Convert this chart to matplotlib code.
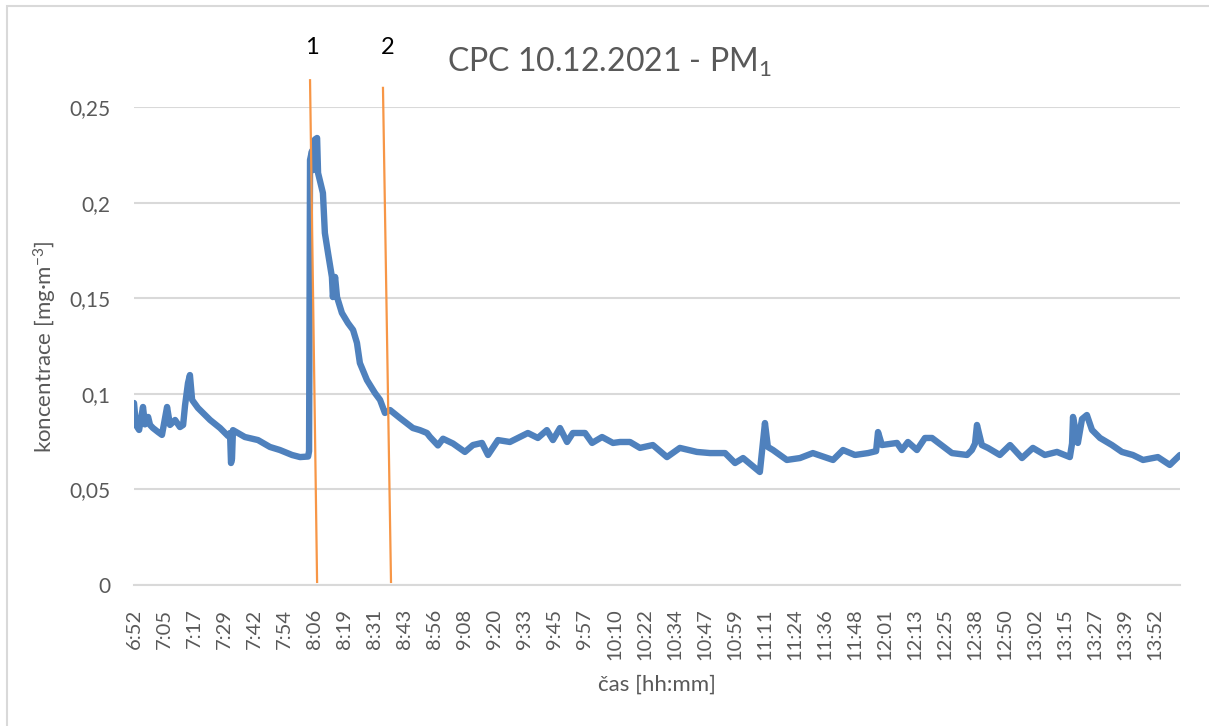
import numpy as np
import matplotlib.pyplot as plt
from matplotlib.patches import Rectangle

plt.rcParams['font.family'] = ['Lato', 'DejaVu Sans']
plt.rcParams['mathtext.fontset'] = 'custom'
plt.rcParams['mathtext.rm'] = 'Lato'
plt.rcParams['mathtext.it'] = 'Lato'

# cas v minutach od 6:52 a koncentrace PM1 [mg/m3]
cas_min = np.array([
    0.0, 0.8, 2.1, 3.7, 4.5, 5.8, 6.6, 7.8, 9.9, 11.5,
    13.6, 14.8, 16.9, 18.9, 20.2, 21.0, 22.2, 23.0, 23.9, 26.3,
    31.3, 35.4, 38.7, 39.5, 39.9, 40.3, 40.7, 45.6, 51.0, 55.9,
    60.0, 65.0, 68.3, 71.6, 72.0, 72.4, 73.2, 73.6, 74.4, 75.3,
    75.7, 77.7, 78.5, 79.8, 81.4, 81.8, 82.7, 83.5, 85.5, 88.0,
    90.1, 91.7, 92.9, 95.8, 99.1, 101.2, 103.2, 105.3, 109.4, 114.7,
    117.6, 120.5, 121.7, 125.0, 127.1, 131.2, 136.1, 139.4, 143.1, 145.6,
    149.7, 154.6, 158.7, 162.0, 166.1, 169.8, 172.3, 175.2, 178.1, 180.5,
    185.5, 188.4, 192.5, 197.0, 199.9, 204.0, 208.1, 213.4, 219.2, 224.5,
    231.5, 236.9, 243.1, 247.2, 250.5, 257.4, 259.5, 260.7, 262.8, 268.5,
    273.9, 279.2, 287.5, 291.6, 296.5, 301.9, 305.2, 306.0, 307.6, 313.8,
    315.8, 318.3, 322.0, 325.3, 328.2, 336.4, 342.6, 344.6, 345.9, 346.7,
    348.7, 351.2, 356.1, 360.3, 365.2, 369.7, 374.6, 379.6, 384.9, 385.8,
    386.2, 388.2, 389.9, 391.9, 394.0, 397.3, 402.2, 406.3, 410.8, 415.0,
    421.1, 426.0, 430.2,
])
pm1 = np.array([
    0.0952, 0.0837, 0.0811, 0.0931, 0.0840, 0.0879, 0.0837, 0.0821, 0.0800, 0.0785,
    0.0931, 0.0837, 0.0863, 0.0826, 0.0837, 0.0940, 0.1056, 0.1098, 0.0968, 0.0926,
    0.0863, 0.0821, 0.0779, 0.0795, 0.0638, 0.0660, 0.0810, 0.0774, 0.0758, 0.0722,
    0.0706, 0.0680, 0.0669, 0.0672, 0.0700, 0.2223, 0.2270, 0.2170, 0.2330, 0.2338,
    0.2155, 0.2050, 0.1841, 0.1736, 0.1611, 0.1506, 0.1611, 0.1506, 0.1423, 0.1370,
    0.1334, 0.1266, 0.1161, 0.1072, 0.1004, 0.0968, 0.0900, 0.0915, 0.0873, 0.0821,
    0.0810, 0.0795, 0.0775, 0.0730, 0.0765, 0.0740, 0.0696, 0.0732, 0.0743, 0.0680,
    0.0758, 0.0748, 0.0774, 0.0795, 0.0769, 0.0810, 0.0758, 0.0821, 0.0748, 0.0795,
    0.0795, 0.0743, 0.0774, 0.0743, 0.0748, 0.0748, 0.0717, 0.0732, 0.0669, 0.0717,
    0.0696, 0.0690, 0.0690, 0.0638, 0.0664, 0.0591, 0.0847, 0.0722, 0.0706, 0.0654,
    0.0664, 0.0690, 0.0654, 0.0706, 0.0680, 0.0690, 0.0700, 0.0800, 0.0732, 0.0743,
    0.0706, 0.0748, 0.0706, 0.0769, 0.0769, 0.0690, 0.0680, 0.0706, 0.0740, 0.0837,
    0.0732, 0.0717, 0.0680, 0.0732, 0.0664, 0.0717, 0.0680, 0.0696, 0.0669, 0.0740,
    0.0879, 0.0743, 0.0868, 0.0889, 0.0811, 0.0769, 0.0732, 0.0696, 0.0680, 0.0654,
    0.0669, 0.0628, 0.0680,
])

x_labels = ['6:52', '7:05', '7:17', '7:29', '7:42', '7:54', '8:06', '8:19', '8:31',
            '8:43', '8:56', '9:08', '9:20', '9:33', '9:45', '9:57', '10:10', '10:22',
            '10:34', '10:47', '10:59', '11:11', '11:24', '11:36', '11:48', '12:01',
            '12:13', '12:25', '12:38', '12:50', '13:02', '13:15', '13:27', '13:39', '13:52']
krok = 12.35  # minut mezi popisky
y_ticks = [0, 0.05, 0.1, 0.15, 0.2, 0.25]
y_labels = ['0', '0,05', '0,1', '0,15', '0,2', '0,25']

# hranice 1 a 2 (rucne nakreslene cary)
hranice = [((72.4, 0.264), (75.3, 0.0016)), ((102.4, 0.260), (105.7, 0.0016))]
hranice_popisky = [('1', 73.2, 0.281), ('2', 104.5, 0.281)]

sed = '#595959'
fig = plt.figure(figsize=(12.09, 7.26), dpi=100)
ax = fig.add_axes([134 / 1209, 1 - 585 / 726, 1046 / 1209, 478 / 726])

ax.plot(cas_min, pm1, color='#4F81BD', lw=4.6, solid_joinstyle='round', solid_capstyle='round')

for (x0, y0), (x1, y1) in hranice:
    ax.plot([x0, x1], [y0, y1], color='#F79646', lw=1.6, clip_on=False)
for txt, tx, ty in hranice_popisky:
    ax.text(tx, ty, txt, ha='center', va='center', fontsize=17, color='black')

ax.set_xlim(0, 430.2)
ax.set_ylim(0, 0.25)
ax.set_xticks(np.arange(len(x_labels)) * krok)
ax.set_xticklabels(x_labels, rotation=90, fontsize=14.5, color=sed)
ax.set_yticks(y_ticks)
ax.set_yticklabels(y_labels, fontsize=15, color=sed)
ax.tick_params(length=0)
ax.tick_params(axis='x', pad=17)
ax.tick_params(axis='y', pad=17)
ax.grid(axis='y', color='#D9D9D9', lw=1.5)
ax.set_axisbelow(True)
for s in ['top', 'right', 'left']:
    ax.spines[s].set_visible(False)
ax.spines['bottom'].set_color('#D9D9D9')
ax.spines['bottom'].set_linewidth(1.5)

fig.text(657 / 1209, 1 - 685 / 726, 'čas [hh:mm]', ha='center', va='center', fontsize=16, color=sed)
fig.text(45 / 1209, 1 - 347 / 726, r'koncentrace [mg·m$^{-3}$]', ha='center', va='center',
         rotation=90, fontsize=16, color=sed)
fig.text(609 / 1209, 1 - 62 / 726, r'CPC 10.12.2021 - PM$_1$', ha='center', va='center',
         fontsize=23, color=sed)

fig.patches.append(Rectangle((7 / 1209, -0.1), 1.2, 1.1 - 6 / 726, transform=fig.transFigure,
                             fill=False, edgecolor='#D9D9D9', lw=1.5))

fig.savefig('out.png', dpi=100)
